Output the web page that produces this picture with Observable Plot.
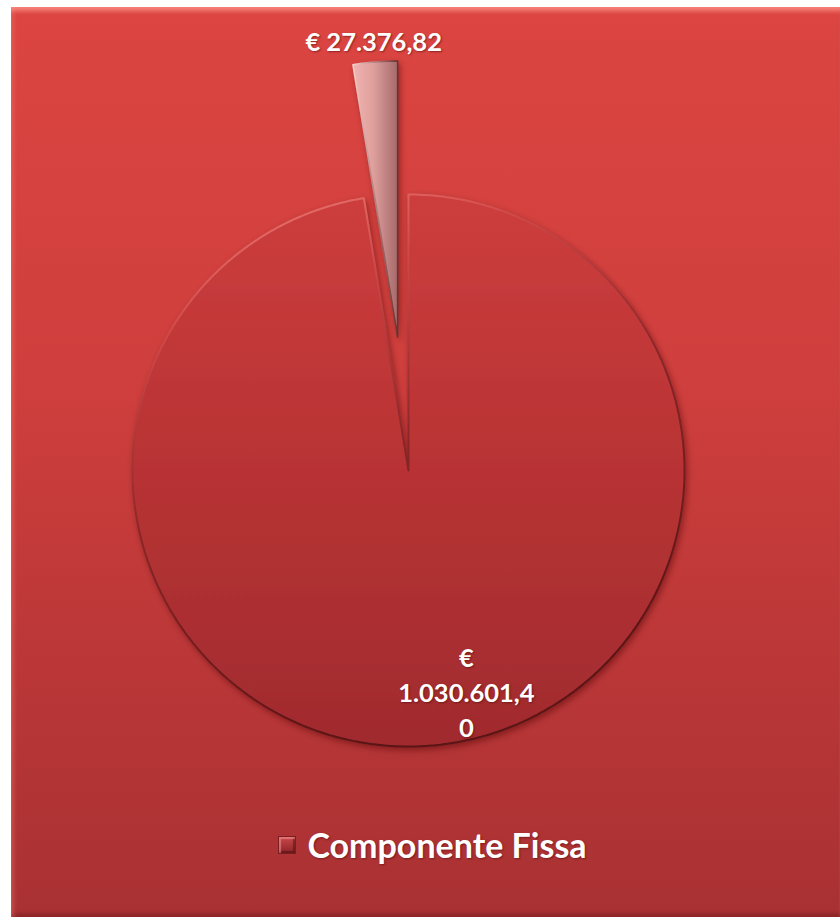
<!DOCTYPE html>
<html>
<head>
<meta charset="utf-8">
<script src="https://cdn.jsdelivr.net/npm/d3@7"></script>
<script src="https://cdn.jsdelivr.net/npm/@observablehq/plot@0.6"></script>
<style>
  html, body { margin: 0; padding: 0; background: #ffffff; }
  #frame {
    position: absolute; left: 11px; top: 7px; width: 829px; height: 910px;
    background: linear-gradient(180deg, #dc4541 0%, #cf3f3d 40%, #b93637 75%, #a93133 100%);
    box-shadow: inset 0 6px 4px -2px rgba(255,150,140,0.75), inset 5px 0 4px -2px rgba(255,130,120,0.35), inset 0 -5px 4px -2px rgba(90,20,20,0.45);
    font-family: Lato, "Open Sans", "DejaVu Sans", sans-serif;
    overflow: hidden;
  }
  #chart { position: absolute; left: 0; top: 0; }
  #chart svg text { text-shadow: 1px 1px 2px rgba(80,10,10,0.55); }
  #legend {
    position: absolute; left: 0; right: 0; top: 817px;
    display: flex; justify-content: center; align-items: center; gap: 11px;
    color: #ffffff; font-weight: 700; font-size: 34px;
    text-shadow: 1px 1px 2px rgba(80,10,10,0.55);
    padding-left: 14px;
  }
  .swatch {
    width: 18px; height: 18px; box-sizing: border-box;
    background: linear-gradient(180deg, #c9474a, #8e2428);
    border: 1px solid #7a1e22;
    box-shadow: inset 2px 2px 1px rgba(255,160,160,0.5), inset -2px -2px 1px rgba(60,10,10,0.45);
  }
</style>
</head>
<body>
<div id="frame">
  <div id="chart"></div>
  <div id="legend"></div>
</div>
<script>
// ---- data ----
const sliceValues = [1030601.40, 27376.82];
const sliceKeys = ["fissa", "altra"];
const legendLabels = ["Componente Fissa"];

// ---- formatting (Italian) ----
const itLocale = d3.formatLocale({decimal: ",", thousands: ".", grouping: [3], currency: ["€ ", ""]});
const fmtEuro = itLocale.format("$,.2f");

function wrapChars(s, n) {
  const words = s.split(" ");
  const lines = [];
  let cur = "";
  for (const w of words) {
    const cand = cur ? cur + " " + w : w;
    if (cand.length <= n) { cur = cand; continue; }
    if (cur) lines.push(cur);
    cur = w;
    while (cur.length > n) { lines.push(cur.slice(0, n)); cur = cur.slice(n); }
  }
  if (cur) lines.push(cur);
  return lines.join("\n");
}

// ---- pie geometry in unit-circle data space ----
const arcs = d3.pie().sort(null).value(d => d)(sliceValues);
const explode = [0, 0.485];
const labelRadius = [0.8, 1.555];

const polyPoints = [];
arcs.forEach((a, i) => {
  const mid = (a.startAngle + a.endAngle) / 2;
  const ox = explode[i] * Math.sin(mid), oy = explode[i] * Math.cos(mid);
  const key = sliceKeys[i];
  polyPoints.push({key, x: ox, y: oy});
  const steps = Math.max(4, Math.ceil((a.endAngle - a.startAngle) / (Math.PI / 360)));
  for (let s = 0; s <= steps; s++) {
    const t = a.startAngle + (a.endAngle - a.startAngle) * s / steps;
    polyPoints.push({key, x: ox + Math.sin(t), y: oy + Math.cos(t)});
  }
  polyPoints.push({key, x: ox, y: oy});
});

const labelData = arcs.map((a, i) => {
  const mid = (a.startAngle + a.endAngle) / 2;
  const r = labelRadius[i];
  return {key: sliceKeys[i], x: r * Math.sin(mid), y: r * Math.cos(mid), text: wrapChars(fmtEuro(a.data), 11)};
});

const svg = Plot.plot({
  width: 829,
  height: 800,
  margin: 0,
  style: {background: "transparent", overflow: "visible"},
  x: {domain: [-1, 1], range: [121, 673], axis: null},
  y: {domain: [-1, 1], range: [739, 187], axis: null},
  marks: [
    Plot.line(polyPoints.filter(d => d.key === "fissa"), {
      x: "x", y: "y", fill: "url(#gradFissa)", stroke: "url(#strokeFissa)", strokeWidth: 2, strokeLinejoin: "round"
    }),
    Plot.line(polyPoints.filter(d => d.key === "altra"), {
      x: "x", y: "y", fill: "url(#gradAltra)", stroke: "url(#strokeAltra)", strokeWidth: 1.6, strokeLinejoin: "round"
    }),
    Plot.text(labelData.filter(d => d.key === "altra"), {
      x: "x", y: "y", text: "text", fill: "#ffffff", fontSize: 25.5, fontWeight: "bold",
      fontFamily: "Lato, 'Open Sans', sans-serif"
    }),
    Plot.text(labelData.filter(d => d.key === "fissa"), {
      x: "x", y: "y", text: "text", dx: 40, fill: "#ffffff", fontSize: 25.5, fontWeight: "bold",
      lineHeight: 1.37, fontFamily: "Lato, 'Open Sans', sans-serif"
    })
  ]
});

// gradients & shadow filter
const root = d3.select(svg);
const defs = root.insert("defs", ":first-child");
const g1 = defs.append("linearGradient").attr("id", "gradFissa").attr("x1", 0).attr("y1", 0).attr("x2", 0).attr("y2", 1);
g1.append("stop").attr("offset", "0%").attr("stop-color", "#cd3d3d");
g1.append("stop").attr("offset", "50%").attr("stop-color", "#b83334");
g1.append("stop").attr("offset", "100%").attr("stop-color", "#a02b2e");
const s1 = defs.append("linearGradient").attr("id", "strokeFissa").attr("x1", 0).attr("y1", 0).attr("x2", 0.35).attr("y2", 1);
s1.append("stop").attr("offset", "0%").attr("stop-color", "#f58a84");
s1.append("stop").attr("offset", "25%").attr("stop-color", "#cf4848");
s1.append("stop").attr("offset", "55%").attr("stop-color", "#8a2628");
s1.append("stop").attr("offset", "100%").attr("stop-color", "#5a1416");
const g2 = defs.append("linearGradient").attr("id", "gradAltra").attr("x1", 0).attr("y1", 0).attr("x2", 1).attr("y2", 0);
g2.append("stop").attr("offset", "0%").attr("stop-color", "#f2b4b0");
g2.append("stop").attr("offset", "45%").attr("stop-color", "#dfa09d");
g2.append("stop").attr("offset", "100%").attr("stop-color", "#a56a6a");
const s2 = defs.append("linearGradient").attr("id", "strokeAltra").attr("x1", 0).attr("y1", 0).attr("x2", 1).attr("y2", 0);
s2.append("stop").attr("offset", "0%").attr("stop-color", "#f8cfcb");
s2.append("stop").attr("offset", "100%").attr("stop-color", "#6a3030");
const f = defs.append("filter").attr("id", "pieShadow").attr("x", "-10%").attr("y", "-10%").attr("width", "130%").attr("height", "130%");
f.append("feDropShadow").attr("dx", 2).attr("dy", 3).attr("stdDeviation", 3).attr("flood-color", "#4a0c0c").attr("flood-opacity", 0.45);
root.selectAll("g[aria-label=line]").attr("filter", "url(#pieShadow)");

document.getElementById("chart").appendChild(svg);

// legend (HTML, below the SVG)
const legend = d3.select("#legend");
legendLabels.forEach(l => {
  legend.append("div").attr("class", "swatch");
  legend.append("span").text(l);
});
</script>
</body>
</html>
